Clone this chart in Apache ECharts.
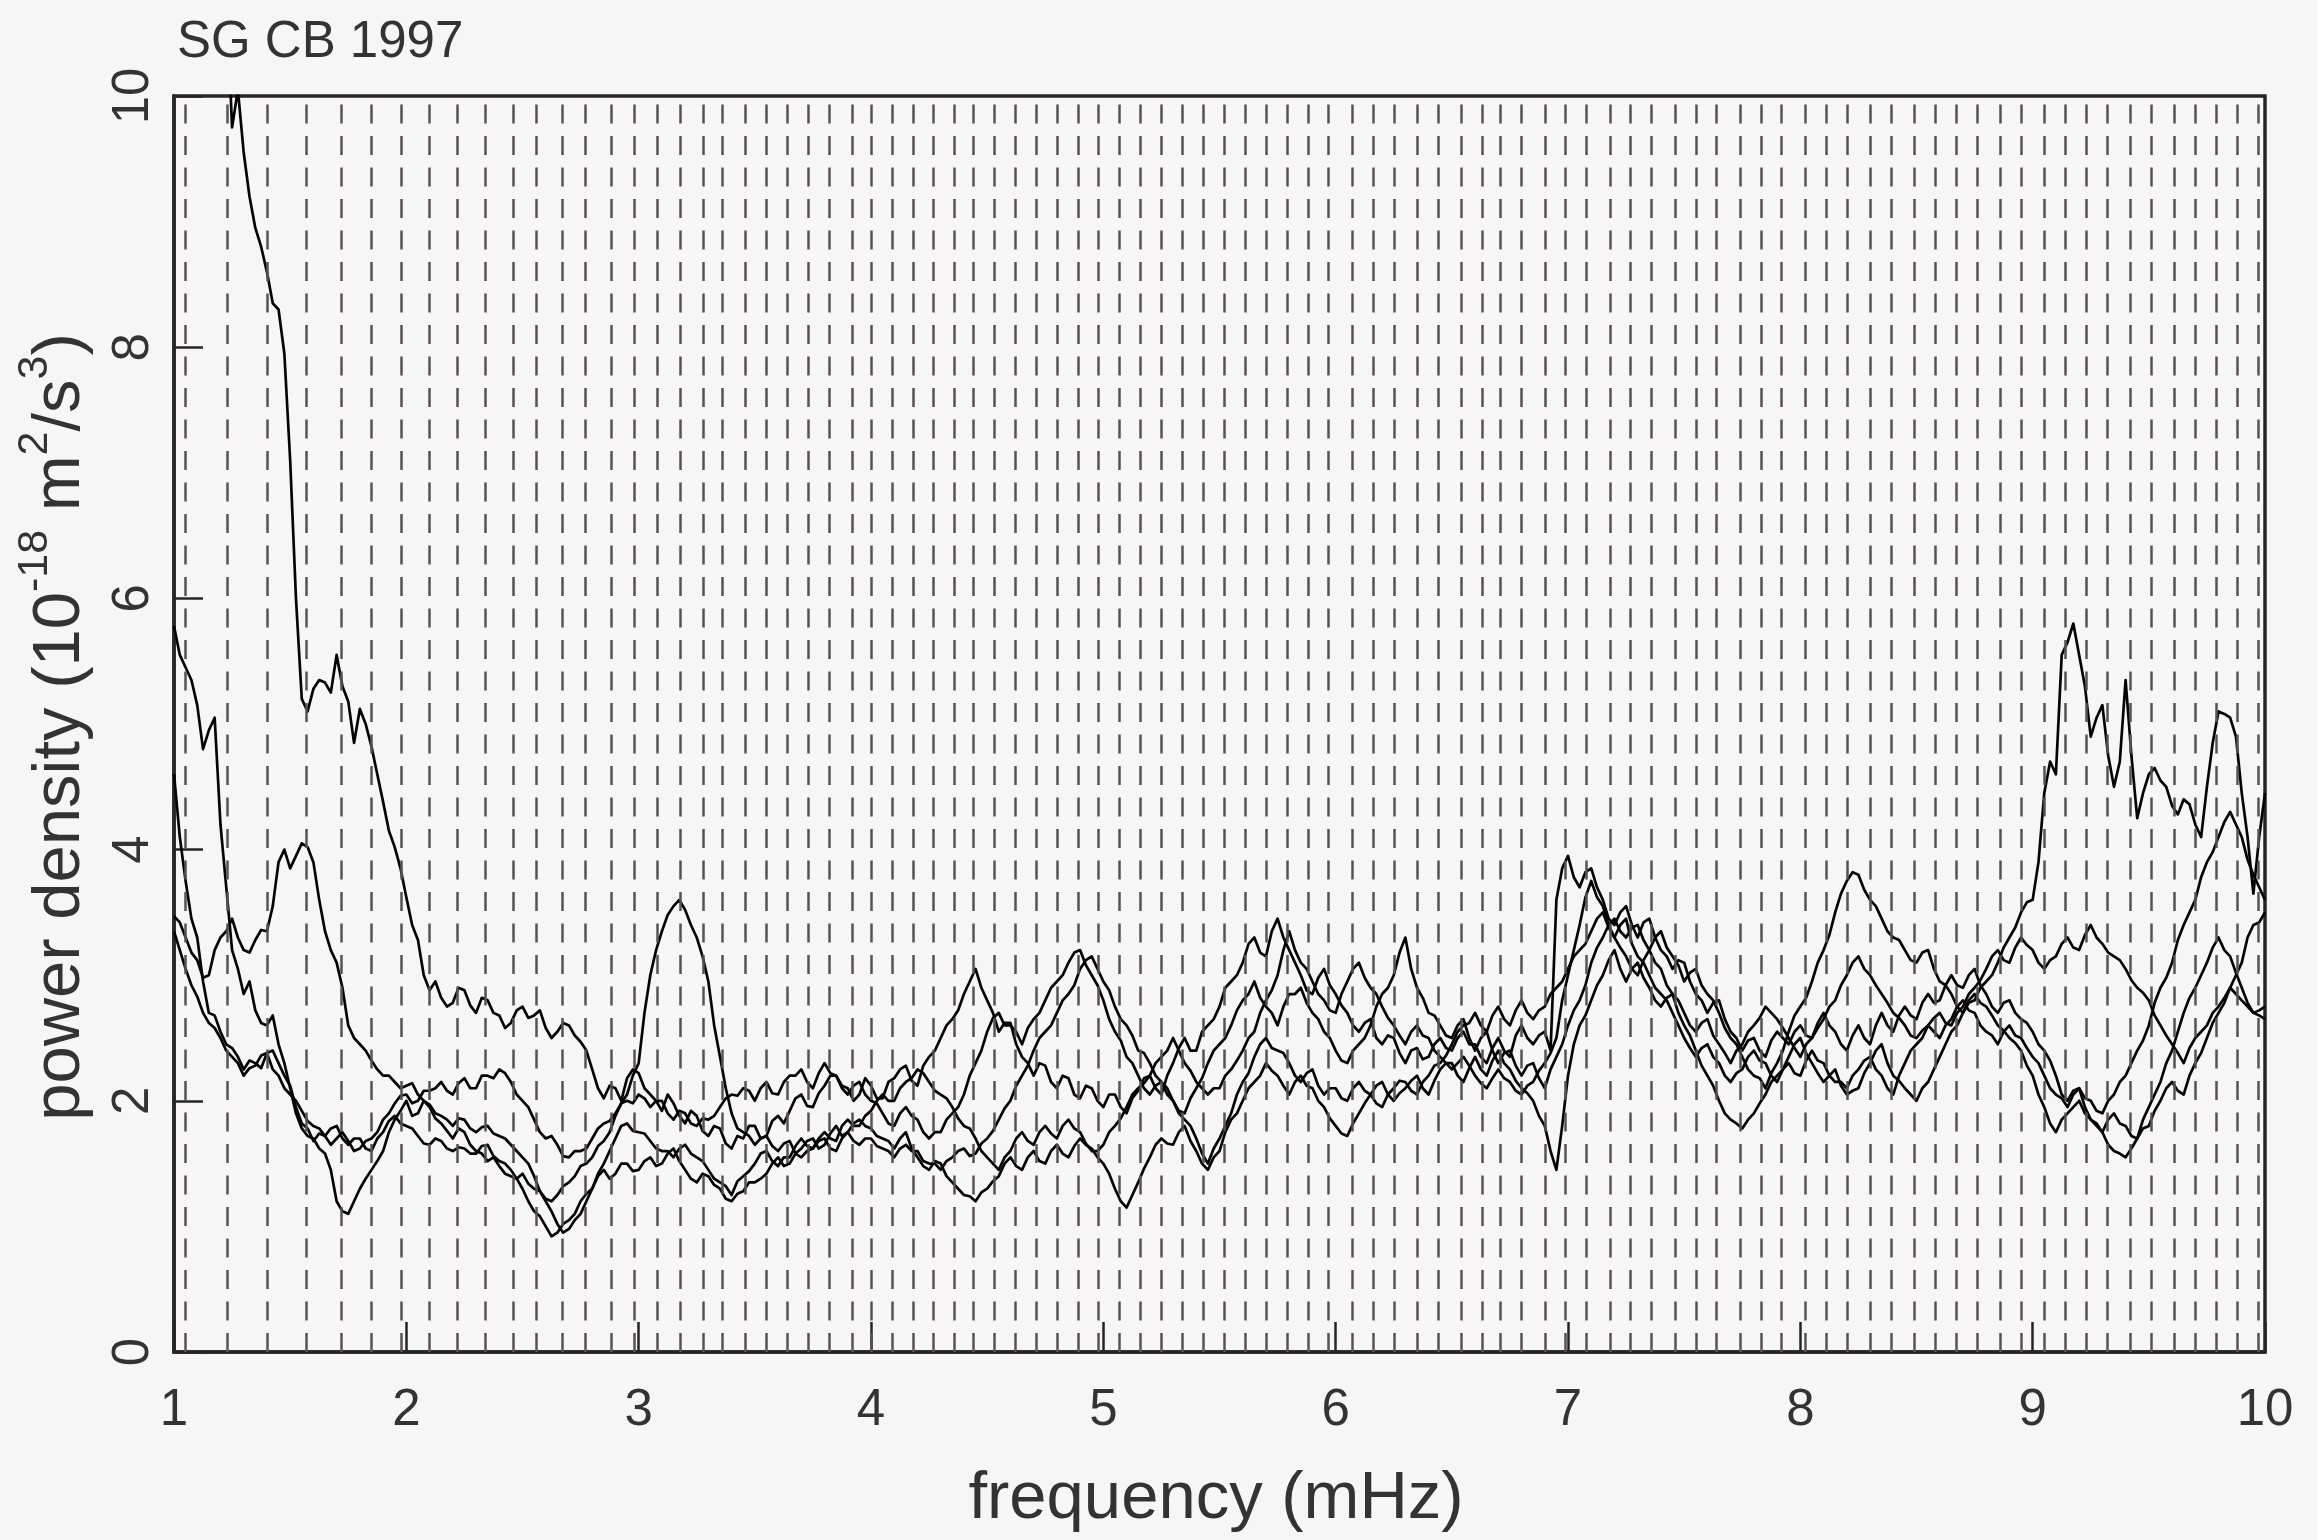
<!DOCTYPE html>
<html>
<head>
<meta charset="utf-8">
<script src="https://cdn.jsdelivr.net/npm/echarts@6.0.0/dist/echarts.min.js"></script>
<style>
html,body{margin:0;padding:0;background:#f7f6f6;}
#c{width:2317px;height:1540px;}
</style>
</head>
<body>
<div id="c"></div>
<script>
// sample frequencies (mHz)
const freqs = [
1.00,1.05,1.10,1.15,1.20,1.25,1.30,1.35,1.40,1.45,
1.50,1.55,1.60,1.65,1.70,1.75,1.80,1.85,1.90,1.95,
2.00,2.05,2.10,2.15,2.20,2.25,2.30,2.35,2.40,2.45,
2.50,2.55,2.60,2.65,2.70,2.75,2.80,2.85,2.90,2.95,
3.00,3.05,3.10,3.15,3.20,3.25,3.30,3.35,3.40,3.45,
3.50,3.55,3.60,3.65,3.70,3.75,3.80,3.85,3.90,3.95,
4.00,4.05,4.10,4.15,4.20,4.25,4.30,4.35,4.40,4.45,
4.50,4.55,4.60,4.65,4.70,4.75,4.80,4.85,4.90,4.95,
5.00,5.05,5.10,5.15,5.20,5.25,5.30,5.35,5.40,5.45,
5.50,5.55,5.60,5.65,5.70,5.75,5.80,5.85,5.90,5.95,
6.00,6.05,6.10,6.15,6.20,6.25,6.30,6.35,6.40,6.45,
6.50,6.55,6.60,6.65,6.70,6.75,6.80,6.85,6.90,6.95,
7.00,7.05,7.10,7.15,7.20,7.25,7.30,7.35,7.40,7.45,
7.50,7.55,7.60,7.65,7.70,7.75,7.80,7.85,7.90,7.95,
8.00,8.05,8.10,8.15,8.20,8.25,8.30,8.35,8.40,8.45,
8.50,8.55,8.60,8.65,8.70,8.75,8.80,8.85,8.90,8.95,
9.00,9.05,9.10,9.15,9.20,9.25,9.30,9.35,9.40,9.45,
9.50,9.55,9.60,9.65,9.70,9.75,9.80,9.85,9.90,9.95,
10.00];
// in-between sample frequencies (mHz)
const midFreqs = [
1.025,1.075,1.125,1.175,1.225,1.275,1.325,1.375,1.425,1.475,
1.525,1.575,1.625,1.675,1.725,1.775,1.825,1.875,1.925,1.975,
2.025,2.075,2.125,2.175,2.225,2.275,2.325,2.375,2.425,2.475,
2.525,2.575,2.625,2.675,2.725,2.775,2.825,2.875,2.925,2.975,
3.025,3.075,3.125,3.175,3.225,3.275,3.325,3.375,3.425,3.475,
3.525,3.575,3.625,3.675,3.725,3.775,3.825,3.875,3.925,3.975,
4.025,4.075,4.125,4.175,4.225,4.275,4.325,4.375,4.425,4.475,
4.525,4.575,4.625,4.675,4.725,4.775,4.825,4.875,4.925,4.975,
5.025,5.075,5.125,5.175,5.225,5.275,5.325,5.375,5.425,5.475,
5.525,5.575,5.625,5.675,5.725,5.775,5.825,5.875,5.925,5.975,
6.025,6.075,6.125,6.175,6.225,6.275,6.325,6.375,6.425,6.475,
6.525,6.575,6.625,6.675,6.725,6.775,6.825,6.875,6.925,6.975,
7.025,7.075,7.125,7.175,7.225,7.275,7.325,7.375,7.425,7.475,
7.525,7.575,7.625,7.675,7.725,7.775,7.825,7.875,7.925,7.975,
8.025,8.075,8.125,8.175,8.225,8.275,8.325,8.375,8.425,8.475,
8.525,8.575,8.625,8.675,8.725,8.775,8.825,8.875,8.925,8.975,
9.025,9.075,9.125,9.175,9.225,9.275,9.325,9.375,9.425,9.475,
9.525,9.575,9.625,9.675,9.725,9.775,9.825,9.875,9.925,9.975];

// power density spectra (10^-18 m^2/s^3), values at freqs and at midFreqs
const specA = [
14,13.5,12.9,12.2,11.4,9.75,9.55,8.95,8.6,8.3,
7.1,5.2,5.28,5.33,5.55,5.18,5.12,4.82,4.38,4.02,
3.62,3.28,2.88,2.82,2.78,2.88,2.7,2.8,2.68,2.62,
2.75,2.68,2.58,2.55,2.6,2.47,2.25,2.02,2.1,2.18,
2.22,2.05,1.92,1.98,1.82,1.88,1.72,1.78,1.62,1.7,
1.8,1.72,1.88,1.92,2.05,1.95,2.12,2.2,2.1,2.05,
2.12,2.02,2.18,2.28,2.12,2.35,2.5,2.65,2.85,3.05,
2.8,2.55,2.62,2.35,2.2,2.28,2.1,2.18,2.02,2.1,
1.95,2.05,1.9,2.08,2.2,2.05,2.3,2.5,2.4,2.6,
2.75,2.95,3.1,3.3,3.15,3.45,3.2,3.0,2.85,3.05,
2.85,2.7,2.55,2.65,2.45,2.5,2.3,2.42,2.35,2.5,
2.4,2.55,2.45,2.3,2.5,2.35,2.6,2.45,2.55,3.6,
3.95,3.7,3.85,3.6,3.4,3.55,3.3,3.45,3.2,3.05,
3.1,2.85,2.7,2.8,2.55,2.4,2.5,2.35,2.55,2.45,
2.6,2.5,2.7,2.55,2.4,2.6,2.45,2.7,2.55,2.75,
2.65,2.85,2.8,3.0,2.9,3.05,2.85,2.7,2.8,2.65,
2.55,2.4,2.2,2.0,2.1,1.85,1.75,1.9,1.8,1.7,
1.8,2.0,2.15,2.05,2.3,2.5,2.7,2.9,3.1,3.4,
3.5];
const specAmid = [
13.8,13.2,12.5,11.8,10.8,10.05,9.2,8.8,8.35,7.95,
6.0,5.1,5.35,5.25,5.3,4.85,5.0,4.6,4.15,3.85,
3.4,3.0,2.95,2.75,2.9,2.76,2.82,2.7,2.58,2.72,
2.66,2.72,2.5,2.62,2.52,2.4,2.1,2.12,2.0,2.25,
2.1,2.0,2.05,1.88,1.92,1.76,1.8,1.66,1.72,1.8,
1.7,1.84,1.82,2.02,1.96,2.06,2.2,2.12,2.0,2.18,
2.02,2.15,2.25,2.16,2.28,2.4,2.6,2.72,2.95,2.9,
2.7,2.62,2.45,2.3,2.3,2.15,2.2,2.05,2.12,2.0,
2.05,1.95,2.02,2.18,2.1,2.2,2.42,2.4,2.55,2.65,
2.9,3.0,3.25,3.18,3.35,3.3,3.1,2.88,2.98,2.92,
2.76,2.6,2.62,2.5,2.52,2.38,2.4,2.33,2.45,2.42,
2.5,2.45,2.35,2.42,2.4,2.52,2.5,2.52,2.4,3.85,
3.78,3.82,3.7,3.45,3.5,3.4,3.42,3.3,3.15,3.12,
2.95,2.8,2.78,2.65,2.5,2.48,2.4,2.48,2.5,2.55,
2.52,2.62,2.6,2.45,2.52,2.5,2.6,2.6,2.68,2.68,
2.78,2.78,2.92,2.92,3.0,2.92,2.75,2.78,2.7,2.62,
2.45,2.32,2.05,2.08,1.95,1.82,1.85,1.82,1.72,1.78,
1.92,2.1,2.08,2.2,2.38,2.62,2.78,3.0,3.3,3.42];

const specB = [
5.78,5.45,5.15,4.95,4.2,3.2,2.85,2.72,2.6,2.45,
2.1,1.78,1.7,1.58,1.2,1.1,1.3,1.45,1.6,1.85,
2.0,1.9,1.95,1.82,1.7,1.75,1.6,1.52,1.48,1.4,
1.3,1.12,1.0,0.95,1.05,1.2,1.3,1.45,1.42,1.5,
1.45,1.55,1.5,1.62,1.45,1.35,1.4,1.3,1.2,1.28,
1.35,1.42,1.55,1.5,1.62,1.7,1.65,1.8,1.75,1.85,
1.78,1.7,1.62,1.75,1.55,1.45,1.5,1.35,1.25,1.2,
1.3,1.4,1.55,1.45,1.6,1.5,1.65,1.55,1.7,1.62,
1.5,1.3,1.15,1.35,1.55,1.7,1.65,1.8,1.6,1.45,
1.6,1.85,2.0,2.15,2.3,2.2,2.05,2.2,2.1,1.95,
1.8,1.72,1.9,2.05,2.15,2.0,2.1,2.2,2.05,2.25,
2.3,2.15,2.35,2.2,2.4,2.25,2.1,2.0,1.8,1.45,
2.2,2.6,2.8,3.0,3.2,2.95,3.1,2.9,2.75,2.85,
2.6,2.4,2.2,2.0,1.85,1.78,1.9,2.05,2.2,2.35,
2.5,2.3,2.15,2.25,2.05,2.1,2.3,2.45,2.2,2.1,
2.0,2.15,2.35,2.55,2.7,2.85,2.75,2.6,2.5,2.4,
2.2,1.95,1.75,1.9,2.0,1.85,1.75,1.6,1.55,1.7,
1.95,2.15,2.4,2.7,2.9,3.1,3.3,3.15,2.9,2.7,
2.75];
const specBmid = [
5.55,5.35,4.8,5.05,3.7,3.05,2.95,2.62,2.68,2.3,
1.9,1.72,1.62,1.45,1.12,1.2,1.38,1.52,1.75,1.92,
1.88,2.0,1.86,1.76,1.78,1.65,1.58,1.55,1.42,1.38,
1.2,1.08,0.92,1.02,1.1,1.26,1.4,1.38,1.5,1.44,
1.52,1.48,1.58,1.52,1.38,1.42,1.33,1.22,1.26,1.35,
1.38,1.5,1.48,1.58,1.68,1.62,1.74,1.72,1.82,1.8,
1.72,1.68,1.7,1.62,1.48,1.52,1.4,1.3,1.24,1.27,
1.36,1.5,1.48,1.55,1.52,1.6,1.58,1.64,1.65,1.55,
1.42,1.2,1.25,1.46,1.65,1.66,1.75,1.68,1.5,1.55,
1.75,1.9,2.1,2.2,2.24,2.12,2.15,2.12,2.0,1.86,
1.74,1.82,1.98,2.12,2.05,2.06,2.16,2.1,2.16,2.3,
2.2,2.26,2.25,2.32,2.3,2.16,2.06,1.88,1.6,1.8,
2.45,2.68,2.92,3.12,3.05,3.05,2.98,2.8,2.82,2.7,
2.52,2.28,2.12,1.9,1.82,1.85,1.98,2.15,2.25,2.45,
2.38,2.22,2.2,2.12,2.08,2.22,2.4,2.3,2.16,2.05,
2.1,2.25,2.45,2.6,2.8,2.78,2.68,2.56,2.46,2.28,
2.05,1.82,1.85,1.95,1.9,1.8,1.65,1.58,1.62,1.85,
2.05,2.3,2.55,2.82,3.0,3.22,3.2,3.02,2.78,2.72];

const specC = [
4.6,3.75,3.3,2.7,2.55,2.42,2.25,2.3,2.38,2.3,
2.12,1.82,1.68,1.72,1.7,1.68,1.62,1.7,1.85,1.98,
2.05,2.0,2.08,2.15,2.05,2.18,2.1,2.2,2.25,2.15,
2.0,1.85,1.7,1.65,1.55,1.6,1.7,1.82,1.9,2.0,
2.05,1.95,2.0,1.85,1.9,1.8,1.85,1.95,2.05,2.1,
2.0,2.15,2.05,2.2,2.25,2.1,2.3,2.2,2.05,2.15,
2.0,1.9,1.8,1.95,1.85,1.7,1.75,1.9,2.05,2.3,
2.55,2.7,2.6,2.45,2.65,2.8,2.95,3.1,3.2,3.0,
2.8,2.55,2.35,2.2,2.05,2.15,2.0,1.9,2.1,2.3,
2.45,2.6,2.8,2.95,2.75,2.6,2.85,2.9,2.7,2.55,
2.4,2.3,2.45,2.6,2.85,3.0,3.3,2.9,2.7,2.6,
2.5,2.65,2.4,2.55,2.3,2.4,2.2,2.3,2.1,2.35,
2.6,2.8,3.1,3.3,3.45,3.3,3.4,3.2,3.35,3.15,
2.95,3.05,2.85,2.7,2.5,2.35,2.2,2.1,2.3,2.55,
2.75,2.95,3.2,3.5,3.75,3.8,3.6,3.45,3.3,3.2,
3.1,3.2,2.95,2.85,2.7,2.8,2.95,3.1,3.3,3.5,
3.6,4.45,4.6,5.65,5.55,4.9,5.15,4.5,5.35,4.25,
4.6,4.55,4.35,4.4,4.2,4.5,5.1,5.05,4.45,3.65,
4.45];
const specCmid = [
4.1,3.45,2.95,2.68,2.45,2.35,2.32,2.26,2.4,2.2,
1.95,1.78,1.74,1.65,1.75,1.6,1.68,1.75,1.9,2.04,
1.98,2.08,2.1,2.08,2.14,2.1,2.2,2.18,2.22,2.05,
1.95,1.75,1.72,1.56,1.6,1.62,1.78,1.84,1.98,1.98,
2.02,2.0,1.9,1.92,1.82,1.86,1.88,2.02,2.04,2.08,
2.1,2.06,2.15,2.2,2.15,2.22,2.22,2.1,2.12,2.05,
1.98,1.82,1.9,1.88,1.75,1.75,1.85,1.95,2.2,2.4,
2.66,2.6,2.55,2.58,2.7,2.9,3.0,3.18,3.08,2.92,
2.65,2.48,2.3,2.1,2.12,2.05,1.92,2.02,2.18,2.4,
2.5,2.72,2.85,2.82,2.7,2.75,2.85,2.78,2.65,2.5,
2.32,2.4,2.5,2.75,2.9,3.18,3.05,2.82,2.68,2.52,
2.6,2.5,2.5,2.4,2.38,2.28,2.28,2.18,2.25,2.45,
2.72,2.92,3.22,3.4,3.35,3.38,3.28,3.3,3.22,3.08,
3.02,2.92,2.8,2.58,2.45,2.25,2.18,2.22,2.4,2.68,
2.82,3.1,3.32,3.65,3.82,3.68,3.55,3.35,3.28,3.12,
3.18,3.05,2.92,2.75,2.78,2.9,3.0,3.22,3.38,3.58,
3.9,4.7,5.55,5.8,5.3,5.05,4.75,4.7,4.75,4.45,
4.65,4.5,4.28,4.36,4.1,4.85,5.08,4.9,4.1,4.1];

const specD = [
3.47,3.3,3.12,3.0,3.3,3.45,3.2,3.28,3.35,3.9,
3.85,4.05,3.9,3.35,3.1,2.6,2.45,2.32,2.2,2.15,
2.12,2.05,1.97,1.88,1.8,1.85,1.75,1.8,1.72,1.65,
1.55,1.4,1.2,1.02,0.98,1.1,1.3,1.5,1.7,1.82,
1.75,1.68,1.6,1.55,1.65,1.55,1.45,1.35,1.25,1.4,
1.5,1.6,1.48,1.55,1.7,1.62,1.75,1.68,1.85,1.8,
1.92,2.05,2.0,2.15,2.25,2.15,2.05,1.95,1.8,1.7,
1.55,1.45,1.6,1.75,1.65,1.8,1.7,1.85,1.75,1.6,
1.65,1.8,1.95,2.1,2.2,2.35,2.5,2.3,2.15,2.05,
2.1,2.25,2.4,2.55,2.8,3.0,3.35,3.1,2.95,2.8,
2.7,2.95,3.1,2.9,2.75,2.6,2.45,2.6,2.5,2.35,
2.25,2.35,2.2,2.1,2.25,2.15,2.05,2.15,2.3,2.5,
3.0,3.4,3.75,3.55,3.3,3.15,3.0,3.2,3.05,2.85,
2.7,2.55,2.65,2.45,2.3,2.45,2.6,2.75,2.65,2.5,
2.35,2.5,2.65,2.8,3.0,3.15,3.0,2.85,2.7,2.6,
2.5,2.6,2.7,2.6,2.75,2.9,3.05,3.2,3.1,3.3,
3.2,3.05,3.15,3.3,3.2,3.4,3.25,3.15,3.05,2.9,
2.8,2.6,2.45,2.3,2.5,2.6,2.75,2.9,2.8,2.7,
2.65];
const specDmid = [
3.42,3.18,2.98,3.2,3.35,3.3,3.18,3.36,3.55,4.0,
3.95,4.02,3.6,3.2,2.9,2.5,2.4,2.25,2.2,2.1,
2.14,2.0,1.9,1.85,1.86,1.78,1.79,1.74,1.7,1.6,
1.5,1.28,1.12,0.95,1.05,1.2,1.42,1.6,1.8,1.76,
1.74,1.62,1.6,1.62,1.58,1.52,1.38,1.32,1.36,1.44,
1.58,1.52,1.55,1.64,1.64,1.7,1.7,1.8,1.8,1.88,
2.0,2.0,2.1,2.18,2.22,2.08,2.02,1.86,1.78,1.6,
1.5,1.55,1.7,1.68,1.75,1.74,1.8,1.78,1.66,1.6,
1.75,1.86,2.05,2.14,2.3,2.4,2.4,2.24,2.1,2.1,
2.2,2.32,2.5,2.7,2.88,3.2,3.2,3.05,2.85,2.72,
2.85,3.05,2.98,2.85,2.66,2.52,2.55,2.52,2.4,2.3,
2.3,2.28,2.14,2.18,2.18,2.08,2.12,2.24,2.38,2.8,
3.2,3.62,3.62,3.4,3.22,3.05,3.12,3.1,2.92,2.8,
2.6,2.62,2.52,2.38,2.4,2.55,2.66,2.7,2.58,2.42,
2.45,2.58,2.75,2.92,3.1,3.05,2.92,2.78,2.66,2.52,
2.56,2.66,2.62,2.7,2.85,2.96,3.15,3.12,3.22,3.24,
3.1,3.12,3.25,3.22,3.32,3.3,3.18,3.12,2.96,2.86,
2.68,2.52,2.38,2.42,2.55,2.7,2.82,2.85,2.75,2.68];

const specE = [
3.35,3.05,2.83,2.62,2.5,2.35,2.2,2.28,2.38,2.2,
2.05,1.92,1.8,1.72,1.8,1.65,1.7,1.6,1.75,1.88,
1.8,1.72,1.65,1.68,1.6,1.62,1.58,1.65,1.52,1.45,
1.42,1.3,1.22,1.25,1.35,1.48,1.55,1.68,1.88,2.05,
2.3,3.0,3.35,3.55,3.52,3.3,2.95,2.35,1.9,1.75,
1.65,1.72,1.6,1.68,1.55,1.62,1.7,1.6,1.75,1.65,
1.7,1.62,1.55,1.65,1.6,1.5,1.45,1.55,1.62,1.58,
1.7,1.85,2.0,2.2,2.4,2.55,2.7,2.85,3.05,3.15,
2.95,2.75,2.6,2.4,2.3,2.15,2.0,1.85,1.7,1.5,
1.7,1.9,2.15,2.35,2.5,2.4,2.3,2.15,2.25,2.05,
2.1,2.0,2.15,2.05,1.95,2.1,2.15,2.05,2.2,2.3,
2.45,2.6,2.7,2.55,2.75,2.6,2.8,2.65,2.75,2.9,
3.05,3.2,3.35,3.5,3.3,3.45,3.15,3.0,2.85,2.7,
2.5,2.35,2.45,2.3,2.15,2.25,2.4,2.3,2.15,2.3,
2.2,2.4,2.3,2.15,2.1,2.25,2.35,2.2,2.05,2.3,
2.45,2.6,2.5,2.65,2.8,2.7,2.55,2.45,2.6,2.5,
2.35,2.2,2.05,1.95,2.1,2.0,1.9,2.05,2.2,2.4,
2.6,2.9,3.1,3.4,3.6,3.9,4.1,4.3,4.1,3.8,
3.6];
const specEmid = [
3.2,2.92,2.7,2.58,2.4,2.3,2.26,2.36,2.25,2.1,
2.0,1.84,1.78,1.78,1.7,1.7,1.62,1.7,1.84,1.82,
1.78,1.66,1.7,1.62,1.63,1.58,1.64,1.56,1.5,1.38,
1.34,1.28,1.2,1.32,1.4,1.5,1.64,1.75,1.98,2.2,
2.7,3.2,3.48,3.6,3.4,3.15,2.6,2.1,1.78,1.72,
1.7,1.64,1.66,1.58,1.6,1.68,1.62,1.7,1.68,1.7,
1.64,1.6,1.62,1.6,1.52,1.5,1.52,1.6,1.56,1.66,
1.76,1.94,2.12,2.28,2.5,2.6,2.8,2.92,3.12,3.05,
2.88,2.65,2.52,2.38,2.2,2.1,1.9,1.8,1.58,1.62,
1.8,2.05,2.22,2.45,2.42,2.38,2.2,2.22,2.12,2.1,
2.02,2.1,2.08,1.98,2.05,2.16,2.08,2.15,2.28,2.36,
2.55,2.62,2.6,2.68,2.65,2.72,2.7,2.72,2.85,2.95,
3.15,3.25,3.45,3.38,3.4,3.25,3.1,2.9,2.8,2.6,
2.42,2.42,2.35,2.2,2.22,2.35,2.32,2.2,2.25,2.22,
2.32,2.32,2.2,2.15,2.2,2.32,2.25,2.1,2.2,2.4,
2.5,2.55,2.6,2.75,2.72,2.6,2.52,2.55,2.52,2.42,
2.3,2.1,2.02,2.05,2.02,1.92,2.0,2.15,2.3,2.48,
2.78,2.98,3.28,3.5,3.78,3.98,4.22,4.2,3.92,3.7];

// dashed reference lines (mHz)
const modeFreqs = [
1.047,1.232,1.400,1.568,1.715,1.848,1.981,2.102,2.223,2.339,
2.455,2.563,2.670,2.774,2.881,2.980,3.084,3.183,3.277,3.363,
3.458,3.548,3.643,3.734,3.824,3.919,4.005,4.091,4.181,4.272,
4.358,4.444,4.534,4.620,4.711,4.801,4.892,4.978,5.068,5.158,
5.253,5.339,5.430,5.520,5.610,5.701,5.791,5.877,5.972,6.067,
6.157,6.252,6.347,6.441,6.536,6.626,6.708,6.803,6.898,6.992,
7.083,7.177,7.268,7.362,7.457,7.548,7.642,7.737,7.832,7.922,
8.017,8.107,8.198,8.297,8.391,8.486,8.576,8.667,8.762,8.856,
8.951,9.046,9.140,9.231,9.325,9.416,9.511,9.605,9.696,9.790,
9.885,9.971];

const xTicks = [1,2,3,4,5,6,7,8,9,10];
const yTicks = [0,2,4,6,8,10];

const FONT = '"Liberation Sans", Arial, Helvetica, sans-serif';
const INK = '#262626';
const TXT = '#333333';

function buildSeries(main, mid) {
  const out = [];
  for (let i = 0; i < freqs.length; i++) {
    out.push([freqs[i], main[i]]);
    if (i < midFreqs.length) out.push([midFreqs[i], mid[i]]);
  }
  return out;
}

const chart = echarts.init(document.getElementById('c'), null, {renderer: 'canvas'});

const spectra = [[specA, specAmid], [specB, specBmid], [specC, specCmid], [specD, specDmid], [specE, specEmid]];
const series = spectra.map(p => ({
  type: 'line',
  data: buildSeries(p[0], p[1]),
  symbol: 'none',
  clip: true,
  silent: true,
  z: 3,
  lineStyle: {color: '#050505', width: 2.7, join: 'round'}
}));
series.push({
  type: 'line',
  data: [],
  silent: true,
  z: 1,
  markLine: {
    symbol: ['none', 'none'],
    silent: true,
    animation: false,
    label: {show: false},
    lineStyle: {type: [19, 12.5], color: '#5a5252', width: 2.5},
    emphasis: {disabled: true},
    data: modeFreqs.map(f => ({xAxis: f}))
  }
});

chart.setOption({
  animation: false,
  backgroundColor: '#f7f6f6',
  grid: {left: 174, right: 52, top: 96, bottom: 188, show: true,
         borderColor: INK, borderWidth: 3.5, backgroundColor: 'transparent'},
  xAxis: {
    type: 'value', min: xTicks[0], max: xTicks[xTicks.length - 1], interval: 1,
    axisLine: {show: true, onZero: false, lineStyle: {color: INK, width: 3.5}},
    axisTick: {show: true, inside: true, length: 30, lineStyle: {color: INK, width: 2.5}},
    axisLabel: {fontSize: 51, color: TXT, fontFamily: FONT, margin: 33,
                showMinLabel: true, showMaxLabel: true},
    splitLine: {show: false}
  },
  yAxis: {
    type: 'value', min: yTicks[0], max: yTicks[yTicks.length - 1], interval: 2,
    axisLine: {show: true, onZero: false, lineStyle: {color: INK, width: 3.5}},
    axisTick: {show: true, inside: true, length: 29, lineStyle: {color: INK, width: 2.5}},
    axisLabel: {fontSize: 51, color: TXT, fontFamily: FONT, margin: 15, rotate: 90,
                showMinLabel: true, showMaxLabel: true},
    splitLine: {show: false}
  },
  graphic: [
    {type: 'text', x: 177, y: 43, silent: true,
     style: {text: 'SG CB 1997', fontSize: 51, fontFamily: FONT, fill: TXT,
             align: 'left', verticalAlign: 'middle'}},
    {type: 'text', x: 1216, y: 1500, silent: true,
     style: {text: 'frequency (mHz)', fontSize: 67, fontFamily: FONT, fill: TXT,
             align: 'center', verticalAlign: 'middle'}},
    {type: 'text', x: 54, y: 727, rotation: Math.PI / 2, silent: true,
     style: {
       text: '{n|power density (10}{s|-18}{n| m}{s|2}{n|/s}{s|3}{n|)}',
       align: 'center', verticalAlign: 'middle',
       rich: {
         n: {fontSize: 67, fontFamily: FONT, fill: TXT, lineHeight: 80, verticalAlign: 'bottom'},
         s: {fontSize: 43, fontFamily: FONT, fill: TXT, lineHeight: 43, verticalAlign: 'top'}
       }
     }}
  ],
  series: series
});
</script>
</body>
</html>
